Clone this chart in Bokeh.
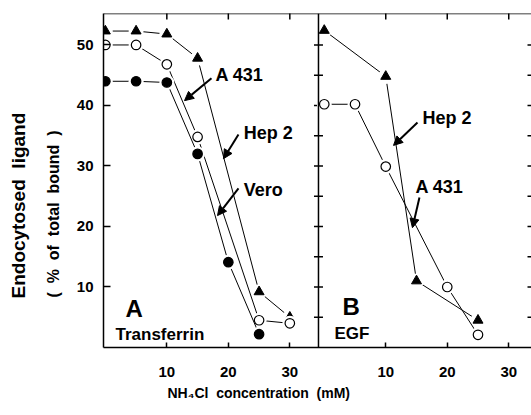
import math
from bokeh.plotting import figure
from bokeh.models import (Range1d, LinearAxis, FixedTicker, Span, Label, Arrow, NormalHead,
                          Title)
from bokeh.embed import file_html
from bokeh.resources import INLINE

# ---------------- data ----------------
# Panel A: Transferrin
a_hep2_x = [0, 5, 10, 15, 25, 30]
a_hep2_y = [52.3, 52.3, 51.8, 47.8, 9.2, 5.0]
a_a431_x = [0, 5, 10, 15, 25, 30]
a_a431_y = [50.0, 50.0, 46.8, 34.8, 4.5, 4.0]
a_vero_x = [0, 5, 10, 15, 20, 25]
a_vero_y = [44.0, 44.0, 43.8, 32.0, 14.1, 2.2]
# Panel B: EGF
b_hep2_x = [0, 10, 15, 25]
b_hep2_y = [52.4, 44.8, 11.0, 4.5]
b_a431_x = [0, 5, 10, 20, 25]
b_a431_y = [40.2, 40.2, 29.9, 10.0, 2.1]

x_ticks = [10, 20, 30]
y_ticks = [10, 20, 30, 40, 50]
minor_y_ticks = [5, 10, 15, 20, 25, 30, 35, 40, 45, 50]

# ---------------- layout ----------------
FONT = "Liberation Sans"
SPAN = 69.6
A_START = -0.3
B_START = -35.9
DIVIDER = 34.66
Y_END = 55.2
NB = "\u00a0"

p = figure(width=531, height=414, output_backend="svg", toolbar_location=None,
           x_range=Range1d(A_START, A_START + SPAN), y_range=Range1d(0, Y_END),
           min_border_left=103, min_border_right=0, min_border_top=13, min_border_bottom=67,
           x_axis_type=None, y_axis_type=None)
p.extra_x_ranges = {"B": Range1d(B_START, B_START + SPAN)}
p.outline_line_color = None
p.xgrid.visible = False
p.ygrid.visible = False
p.background_fill_color = "white"
p.border_fill_color = "white"

shift = A_START - B_START
all_ticks = x_ticks + [t + shift for t in x_ticks]
overrides = {t + shift: str(t) for t in x_ticks}

xb = LinearAxis(ticker=FixedTicker(ticks=all_ticks), major_label_overrides=overrides,
                major_tick_in=5, major_tick_out=0, minor_tick_line_color=None,
                axis_line_width=1.5, major_tick_line_width=1.5,
                major_label_standoff=19, major_label_text_font=FONT,
                major_label_text_font_style="bold", major_label_text_font_size="15px",
                major_label_text_color="black")
p.add_layout(xb, "below")

yl = LinearAxis(ticker=FixedTicker(ticks=y_ticks), major_tick_in=7, major_tick_out=0,
                minor_tick_line_color=None, axis_line_width=1.5, major_tick_line_width=1.5,
                major_label_standoff=10, major_label_text_font=FONT,
                major_label_text_font_style="bold", major_label_text_font_size="15px",
                major_label_text_color="black")
p.add_layout(yl, "left")

# axis titles
y_title_1 = "Endocytosed" + NB + " ligand"
y_title_2 = "(" + NB + " %" + NB + " of" + NB + " total" + NB + " bound" + NB + " )"
x_title = "NH\u2084Cl" + NB + " concentration" + NB + " (mM)"
p.add_layout(Title(text=y_title_2, text_font=FONT, text_font_style="bold",
                   text_color="black", text_font_size="16px", align="left",
                   offset=50, standoff=24), "left")
p.add_layout(Title(text=y_title_1, text_font=FONT, text_font_style="bold",
                   text_color="black", text_font_size="19px", align="left",
                   offset=49, standoff=3), "left")
p.add_layout(Title(text=x_title, text_font=FONT, text_color="black",
                   text_font_style="bold", text_font_size="14px", align="left",
                   offset=64, standoff=6), "below")

# frame top line, divider between panels, and their ticks
p.add_layout(Span(location=Y_END, dimension="width", line_color="black", line_width=1.5))
p.add_layout(Span(location=DIVIDER, dimension="height", line_color="black", line_width=1.5))
p.scatter(x_ticks, [Y_END] * len(x_ticks), marker="dash", angle=math.pi / 2, size=12,
          line_color="black", line_width=1.5)
p.scatter(x_ticks, [Y_END] * len(x_ticks), marker="dash", angle=math.pi / 2, size=12,
          line_color="black", line_width=1.5, x_range_name="B")
p.scatter([DIVIDER] * len(minor_y_ticks), minor_y_ticks, marker="dash", size=9,
          line_color="black", line_width=1.5)
p.scatter([A_START + SPAN] * len(minor_y_ticks), minor_y_ticks, marker="dash", size=8,
          line_color="black", line_width=1.5)

def series(xs, ys, marker, filled, rng="default"):
    kw = {} if rng == "default" else {"x_range_name": rng}
    p.line(xs, ys, line_color="black", line_width=1, **kw)
    p.scatter(xs, ys, marker="circle", size=15, fill_color="white", line_color=None, **kw)
    if marker == "triangle":
        p.scatter(xs, ys, marker="triangle", size=10, fill_color="black",
                  line_color="black", **kw)
    else:
        p.scatter(xs, ys, marker="circle", size=9.5,
                  fill_color="black" if filled else "white",
                  line_color="black", line_width=1.2, **kw)

series(a_hep2_x, a_hep2_y, "triangle", True)
series(a_a431_x, a_a431_y, "circle", False)
series(a_vero_x, a_vero_y, "circle", True)
series(b_hep2_x, b_hep2_y, "triangle", True, "B")
series(b_a431_x, b_a431_y, "circle", False, "B")

def lab(x, y, text, size, rng="default", align="left"):
    kw = {} if rng == "default" else {"x_range_name": rng}
    p.add_layout(Label(x=x, y=y, text=text, text_font=FONT, text_font_style="bold",
                       text_font_size=size, text_align=align, text_baseline="middle",
                       text_color="black", **kw))

def arrow(x0, y0, x1, y1, rng="default"):
    kw = {} if rng == "default" else {"x_range_name": rng}
    p.add_layout(Arrow(x_start=x0, y_start=y0, x_end=x1, y_end=y1, line_width=2,
                       line_color="black",
                       end=NormalHead(size=9, fill_color="black", line_color="black"), **kw))

# panel A annotations
lab(17.9, 45.0, "A 431", "18px")
arrow(17.26, 44.5, 12.87, 40.8)
lab(22.5, 35.5, "Hep 2", "18px")
arrow(21.65, 35.2, 19.2, 31.2)
lab(22.5, 26.1, "Vero", "18px")
arrow(21.65, 26.3, 18.24, 21.8)
lab(3.28, 6.45, "A", "24px")
lab(1.65, 2.1, "Transferrin", "17px")

# panel B annotations
lab(2.96, 6.78, "B", "24px", "B")
lab(1.66, 2.3, "EGF", "17px", "B")
lab(15.97, 38.0, "Hep 2", "18px", "B")
arrow(15.16, 37.2, 11.26, 33.4, "B")
lab(14.83, 26.6, "A 431", "18px", "B")
arrow(15.48, 24.8, 14.34, 19.8, "B")

open("out.html", "w").write(file_html(p, INLINE))
